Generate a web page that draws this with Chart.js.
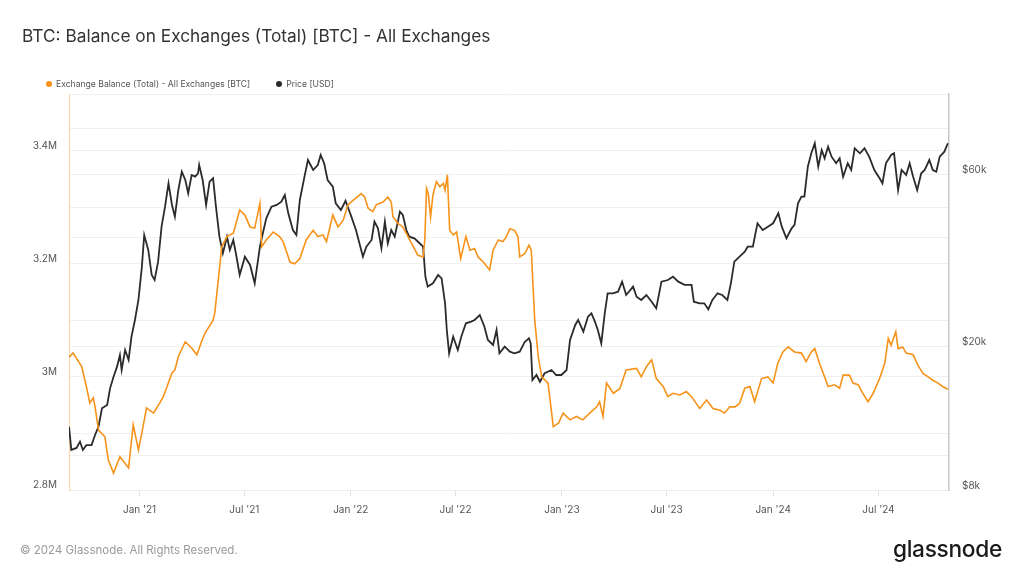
<!DOCTYPE html>
<html>
<head>
<meta charset="utf-8">
<title>BTC: Balance on Exchanges</title>
<script src="https://cdn.jsdelivr.net/npm/chart.js@4.4.1/dist/chart.umd.min.js"></script>
<style>
  body { margin: 0; background: #fff; font-family: Inter, "Noto Sans", sans-serif; }
  #wrap { position: relative; width: 1024px; height: 576px; overflow: hidden; }
  #chart { position: absolute; left: 0; top: 0; }
  .title { position: absolute; left: 22px; top: 25px; font-size: 17.3px; color: #333; }
  .legend { position: absolute; left: 46px; top: 79px; font-size: 8.6px; color: #555; display: flex; align-items: center; }
  .legend span.dot { display: inline-block; width: 6px; height: 6px; border-radius: 50%; margin-right: 4px; }
  .legend .item { display: flex; align-items: center; margin-right: 26px; }
  .footer { position: absolute; left: 20px; top: 543px; font-size: 11.5px; color: #999; }
  .logo { position: absolute; right: 22px; top: 535px; font-size: 22.7px; color: #1a1a1a; font-weight: 500; letter-spacing: -0.3px; }
</style>
</head>
<body>
<div id="wrap">
  <canvas id="chart" width="1024" height="576"></canvas>
  <div class="title">BTC: Balance on Exchanges (Total) [BTC] - All Exchanges</div>
  <div class="legend">
    <div class="item"><span class="dot" style="background:#f7931a"></span>Exchange Balance (Total) - All Exchanges [BTC]</div>
    <div class="item"><span class="dot" style="background:#2b2b2b"></span>Price [USD]</div>
  </div>
  <div class="footer">© 2024 Glassnode. All Rights Reserved.</div>
  <div class="logo">glassnode</div>
</div>
<script>
// Exchange balance (BTC)
const balanceDates = [
  '2020-09-01','2020-09-08','2020-09-23','2020-10-01','2020-10-07','2020-10-13','2020-10-16','2020-10-22',
  '2020-11-02','2020-11-08','2020-11-17','2020-11-28','2020-12-07','2020-12-13','2020-12-21','2020-12-30',
  '2021-01-05','2021-01-13','2021-01-25','2021-02-05','2021-02-11','2021-02-26','2021-03-03','2021-03-09',
  '2021-03-21','2021-04-01','2021-04-10','2021-04-18','2021-04-24','2021-05-08','2021-05-11','2021-05-17',
  '2021-05-23','2021-06-01','2021-06-12','2021-06-23','2021-07-02','2021-07-11','2021-07-19','2021-07-28',
  '2021-07-31','2021-08-08','2021-08-20','2021-08-31','2021-09-06','2021-09-18','2021-09-26','2021-10-05',
  '2021-10-16','2021-10-28','2021-11-05','2021-11-14','2021-11-20','2021-12-01','2021-12-10','2021-12-19',
  '2021-12-27','2022-01-05','2022-01-19','2022-01-25','2022-01-31','2022-02-08','2022-02-14','2022-02-26',
  '2022-03-06','2022-03-12','2022-03-15','2022-03-24','2022-04-01','2022-04-10','2022-04-16','2022-04-27',
  '2022-05-06','2022-05-09','2022-05-12','2022-05-15','2022-05-19','2022-05-23','2022-05-29','2022-06-04',
  '2022-06-10','2022-06-13','2022-06-17','2022-06-21','2022-06-27','2022-07-03','2022-07-10','2022-07-19',
  '2022-07-26','2022-08-03','2022-08-09','2022-08-18','2022-08-29','2022-09-04','2022-09-13','2022-09-21',
  '2022-09-27','2022-10-03','2022-10-11','2022-10-17','2022-10-20','2022-10-29','2022-11-05','2022-11-09',
  '2022-11-15','2022-11-21','2022-11-27','2022-12-08','2022-12-17','2022-12-26','2023-01-03','2023-01-15',
  '2023-01-26','2023-02-06','2023-02-18','2023-03-02','2023-03-07','2023-03-13','2023-03-19','2023-03-31',
  '2023-04-11','2023-04-22','2023-05-10','2023-05-18','2023-05-27','2023-06-05','2023-06-13','2023-06-25',
  '2023-07-03','2023-07-12','2023-07-24','2023-08-04','2023-08-13','2023-08-27','2023-09-08','2023-09-19',
  '2023-10-01','2023-10-09','2023-10-18','2023-10-27','2023-11-04','2023-11-13','2023-11-22','2023-11-30',
  '2023-12-12','2023-12-23','2024-01-01','2024-01-09','2024-01-18','2024-01-27','2024-02-07','2024-02-19',
  '2024-02-27','2024-03-07','2024-03-13','2024-03-21','2024-03-30','2024-04-05','2024-04-16','2024-04-25',
  '2024-05-01','2024-05-12','2024-05-18','2024-05-27','2024-06-04','2024-06-13','2024-06-22','2024-07-03',
  '2024-07-12','2024-07-18','2024-07-23','2024-07-31','2024-08-04','2024-08-12','2024-08-18','2024-08-30',
  '2024-09-07','2024-09-16','2024-09-25','2024-10-03','2024-10-12','2024-10-20','2024-10-29'
];
const balanceValues = [
  3035000,3042000,3018000,2983000,2954000,2963000,2947000,2906000,
  2894000,2853000,2830000,2859000,2847000,2839000,2915000,2871000,
  2901000,2945000,2936000,2954000,2965000,3007000,3012000,3036000,
  3062000,3051000,3039000,3062000,3077000,3100000,3113000,3171000,
  3230000,3248000,3254000,3295000,3286000,3265000,3263000,3307000,
  3230000,3242000,3256000,3248000,3239000,3203000,3200000,3209000,
  3242000,3259000,3248000,3251000,3239000,3286000,3265000,3277000,
  3304000,3312000,3324000,3318000,3298000,3292000,3304000,3309000,
  3318000,3309000,3283000,3271000,3265000,3248000,3236000,3215000,
  3212000,3242000,3333000,3324000,3283000,3321000,3345000,3336000,
  3342000,3330000,3357000,3259000,3251000,3256000,3209000,3248000,
  3224000,3227000,3212000,3203000,3189000,3224000,3242000,3239000,
  3248000,3262000,3259000,3248000,3212000,3218000,3233000,3224000,
  3100000,3036000,3000000,2989000,2912000,2918000,2936000,2924000,
  2930000,2924000,2936000,2947000,2956000,2930000,2989000,2971000,
  2979000,3012000,3015000,3000000,3018000,3030000,2997000,2983000,
  2965000,2971000,2968000,2974000,2965000,2944000,2959000,2944000,
  2941000,2936000,2947000,2947000,2953000,2980000,2983000,2956000,
  2997000,3000000,2989000,3024000,3044000,3053000,3044000,3042000,
  3027000,3044000,3050000,3024000,3000000,2983000,2986000,2980000,
  3003000,3003000,2989000,2986000,2971000,2956000,2971000,2997000,
  3024000,3068000,3056000,3080000,3050000,3053000,3042000,3039000,
  3021000,3006000,3000000,2994000,2989000,2983000,2978000
];

// BTC price (USD)
const priceDates = [
  '2020-09-01','2020-09-05','2020-09-14','2020-09-20','2020-09-25','2020-10-01','2020-10-10','2020-10-16',
  '2020-10-22','2020-10-28','2020-11-06','2020-11-11','2020-11-17','2020-11-23','2020-11-28','2020-12-01',
  '2020-12-07','2020-12-13','2020-12-18','2020-12-24','2020-12-30','2021-01-05','2021-01-09','2021-01-16',
  '2021-01-22','2021-01-27','2021-02-02','2021-02-08','2021-02-14','2021-02-20','2021-02-26','2021-03-03',
  '2021-03-09','2021-03-15','2021-03-21','2021-03-26','2021-04-01','2021-04-07','2021-04-12','2021-04-14',
  '2021-04-20','2021-04-26','2021-05-02','2021-05-08','2021-05-13','2021-05-19','2021-05-25','2021-06-01',
  '2021-06-06','2021-06-12','2021-06-17','2021-06-23','2021-07-02','2021-07-11','2021-07-19','2021-07-28',
  '2021-08-02','2021-08-08','2021-08-17','2021-08-26','2021-09-03','2021-09-09','2021-09-15','2021-09-23',
  '2021-09-29','2021-10-05','2021-10-13','2021-10-19','2021-10-28','2021-11-05','2021-11-10','2021-11-16',
  '2021-11-22','2021-12-01','2021-12-06','2021-12-15','2021-12-23','2022-01-02','2022-01-10','2022-01-22',
  '2022-01-28','2022-02-06','2022-02-11','2022-02-17','2022-02-23','2022-03-01','2022-03-06','2022-03-12',
  '2022-03-18','2022-03-27','2022-04-01','2022-04-07','2022-04-12','2022-04-21','2022-04-30','2022-05-06',
  '2022-05-10','2022-05-14','2022-05-23','2022-06-01','2022-06-07','2022-06-13','2022-06-16','2022-06-20',
  '2022-06-27','2022-07-05','2022-07-11','2022-07-19','2022-07-28','2022-08-03','2022-08-12','2022-08-20',
  '2022-08-26','2022-09-04','2022-09-10','2022-09-15','2022-09-24','2022-10-03','2022-10-11','2022-10-20',
  '2022-10-29','2022-11-05','2022-11-08','2022-11-11','2022-11-18','2022-11-24','2022-12-02','2022-12-14',
  '2022-12-22','2022-12-31','2023-01-09','2023-01-15','2023-01-24','2023-01-29','2023-02-07','2023-02-15',
  '2023-02-21','2023-02-27','2023-03-04','2023-03-10','2023-03-16','2023-03-21','2023-03-30','2023-04-08',
  '2023-04-15','2023-04-22','2023-05-04','2023-05-10','2023-05-18','2023-05-27','2023-06-05','2023-06-13',
  '2023-06-22','2023-07-03','2023-07-12','2023-07-21','2023-08-01','2023-08-13','2023-08-17','2023-08-27',
  '2023-09-04','2023-09-11','2023-09-18','2023-09-27','2023-10-05','2023-10-14','2023-10-20','2023-10-26',
  '2023-11-04','2023-11-13','2023-11-18','2023-11-27','2023-12-05','2023-12-14','2023-12-23','2024-01-01',
  '2024-01-10','2024-01-16','2024-01-24','2024-02-02','2024-02-07','2024-02-13','2024-02-19','2024-02-24',
  '2024-03-01','2024-03-07','2024-03-13','2024-03-19','2024-03-25','2024-03-30','2024-04-05','2024-04-11',
  '2024-04-19','2024-04-25','2024-05-01','2024-05-09','2024-05-15','2024-05-21','2024-05-30','2024-06-07',
  '2024-06-15','2024-06-24','2024-07-03','2024-07-08','2024-07-14','2024-07-23','2024-07-28','2024-08-04',
  '2024-08-10','2024-08-18','2024-08-24','2024-08-30','2024-09-06','2024-09-13','2024-09-19','2024-09-27',
  '2024-10-03','2024-10-09','2024-10-15','2024-10-23','2024-10-29'
];
const priceValues = [
  11980,10330,10460,10890,10330,10650,10650,11360,
  11980,13470,13760,15300,16480,17570,18930,17200,
  19540,18340,21270,23660,26880,33240,40690,36980,
  31520,30530,34320,42900,48740,56570,49280,45730,
  54210,60920,57780,53090,59660,59020,60310,63580,
  57780,49280,57160,58410,48740,40250,36210,40250,
  36980,39410,35810,31520,35430,33610,29890,37760,
  41130,45250,48740,49280,50320,52510,46720,42000,
  40690,50870,59020,65640,61590,63580,67780,64280,
  57780,55360,49810,47720,50600,45730,42000,35430,
  37760,39410,44290,42450,37390,44290,38600,42000,
  40250,47210,46220,42000,40250,39840,38600,37760,
  31180,29270,29890,31520,30860,26320,22200,19130,
  21270,19540,21270,23170,23410,23660,24420,22670,
  20830,20170,22200,19130,19960,19330,19130,19330,
  20600,21050,20390,16130,16660,15960,16840,17200,
  16660,16660,17200,20830,22920,23660,21960,24160,
  24690,23410,22200,20390,24690,28050,28050,28340,
  30210,27750,29270,27450,26880,27750,26590,25490,
  30210,30530,31180,30210,29590,29590,26590,26320,
  26320,25330,26880,28050,27750,26880,29890,34320,
  35430,36580,37760,37760,43850,42000,42900,43850,
  46720,42900,39840,42450,43380,49810,51950,51950,
  62900,68510,73030,62900,69960,66350,71470,67050,
  64280,66350,59020,64280,61590,70740,68510,70740,
  67050,61590,58410,56570,64280,67780,68510,54210,
  61590,59660,64280,59020,54210,60310,61590,65640,
  61590,60920,67050,69210,73030
];

// x axis ticks
const tickDates = ['2021-01-01','2021-07-01','2022-01-01','2022-07-01','2023-01-01','2023-07-01','2024-01-01','2024-07-01'];
const tickLabels = ["Jan '21","Jul '21","Jan '22","Jul '22","Jan '23","Jul '23","Jan '24","Jul '24"];
// right axis (log) gridlines and the ones that get a label
const priceTicks = [8000, 10000, 20000, 40000, 60000, 80000];
const priceTickLabels = { 8000: '$8k', 20000: '$20k', 60000: '$60k' };

const balancePoints = balanceDates.map((d, i) => ({ x: Date.parse(d), y: balanceValues[i] }));
const pricePoints = priceDates.map((d, i) => ({ x: Date.parse(d), y: priceValues[i] }));

const tickFont = { family: 'Inter', size: 10 };
const gridColour = '#f0f0f0';

const ctx = document.getElementById('chart').getContext('2d');
const myChart = new Chart(ctx, {
  type: 'line',
  data: {
    datasets: [{
      label: 'Exchange Balance (Total) - All Exchanges [BTC]',
      data: balancePoints,
      yAxisID: 'y',
      borderColor: '#f7931a',
      borderWidth: 1.6,
      pointRadius: 0,
      tension: 0,
    }, {
      label: 'Price [USD]',
      data: pricePoints,
      yAxisID: 'y1',
      borderColor: '#2b2b2b',
      borderWidth: 1.8,
      pointRadius: 0,
      tension: 0,
    }]
  },
  options: {
    responsive: false,
    animation: false,
    layout: { padding: { top: 94, left: 30, right: 20, bottom: 46 } },
    plugins: {
      legend: { display: false },
      tooltip: { enabled: false },
    },
    scales: {
      x: {
        type: 'linear',
        min: Date.parse('2020-09-01'),
        max: Date.parse('2024-10-31'),
        afterBuildTicks: (scale) => {
          scale.ticks = tickDates.map(d => ({ value: Date.parse(d) }));
        },
        afterFit: (scale) => { scale.height = 40; },
        ticks: {
          callback: (value, index) => tickLabels[index],
          color: '#555',
          font: tickFont,
          padding: 8,
          maxRotation: 0,
          autoSkip: false,
        },
        grid: { drawOnChartArea: false, tickLength: 6, color: '#e4e4e4' },
        border: { color: '#ececec' },
      },
      y: {
        position: 'left',
        min: 2800000,
        max: 3500000,
        afterFit: (scale) => { scale.width = 39; },
        ticks: {
          stepSize: 100000,
          callback: (value) => Math.round(value / 100000) % 2 === 0 ? (value / 1000000) + 'M' : '',
          color: '#555',
          font: tickFont,
          padding: 12,
          labelOffset: -5,
        },
        grid: { color: gridColour, drawTicks: false },
        border: { color: '#fbd5a9' },
      },
      y1: {
        type: 'logarithmic',
        position: 'right',
        min: 8000,
        max: 100000,
        afterBuildTicks: (scale) => {
          scale.ticks = priceTicks.map(v => ({ value: v }));
        },
        afterFit: (scale) => { scale.width = 55; },
        ticks: {
          callback: (value) => priceTickLabels[value] || '',
          color: '#555',
          font: tickFont,
          padding: 13,
          autoSkip: false,
          labelOffset: -4,
        },
        grid: { color: gridColour, drawTicks: false },
        border: { color: '#c8c8c8', width: 1.5 },
      }
    }
  }
});
</script>
</body>
</html>
